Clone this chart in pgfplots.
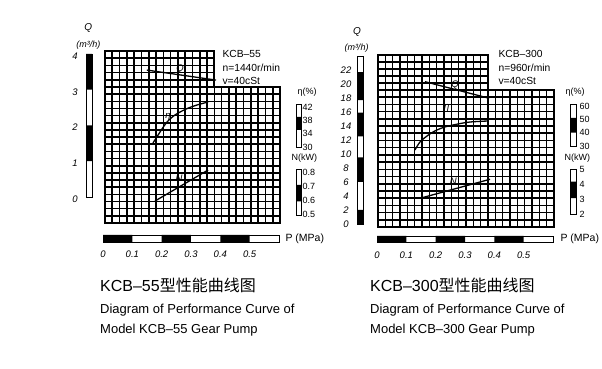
\documentclass[border=0pt]{standalone}
\usepackage{fontspec}
\setmainfont{Liberation Sans}
\newfontfamily\cjk{Noto Sans CJK SC}
\usepackage{pgfplots}
\pgfplotsset{compat=1.18}
\newcommand\ticklab{\fontsize{9.5}{11}\selectfont\itshape}
\newcommand\leglab{\fontsize{9}{10}\selectfont}
\newcommand\infofont{\fontsize{10.3}{12}\selectfont}
\newcommand\curvelab{\fontsize{9.5}{10}\selectfont\itshape}
\pgfplotsset{
  /pgf/number format/assume math mode=true,
  gridax/.style={scale only axis, anchor=south west, xmin=0, ymin=0,
    xtick distance=1, ytick distance=1, grid=major,
    major grid style={black, line width=1.6pt},
    xticklabels={}, yticklabels={}, major tick length=0pt,
    axis line style={line width=1.9pt}},
  dataax/.style={scale only axis, anchor=south west, axis lines=none, clip=false,
    xmin=0, xmax=0.6},
  barax/.style={scale only axis, anchor=south west, axis line style={line width=0.9pt},
    major tick length=0pt},
  curve/.style={black, line width=1.3pt, smooth, no marks},
}
\begin{document}
\begin{tikzpicture}[x=1pt,y=1pt]
\path[use as bounding box] (0,0) rectangle (602,369);

% ================= LEFT: KCB-55 =================
% grid
\begin{axis}[gridax, at={(105pt,146pt)}, width=175pt, height=136pt, xmax=24, ymax=19]
\end{axis}
\begin{axis}[gridax, at={(105pt,282pt)}, width=109.4pt, height=36pt, xmax=15, ymax=5]
\end{axis}
% curves (x = P in MPa, y = Q in m3/h)
\begin{axis}[dataax, at={(104pt,172pt)}, width=176pt, height=143pt, ymin=0, ymax=4]
\addplot[curve] coordinates {(0.146,3.55) (0.382,3.27)};
\addplot[curve] coordinates {(0.167,1.51) (0.191,1.818) (0.215,2.098) (0.242,2.294) (0.280,2.462) (0.317,2.573) (0.355,2.657)};
\addplot[curve] coordinates {(0.174,-0.112) (0.355,0.755)};
\node[font=\curvelab] at (axis cs:0.259,3.58) {Q};
\node[font=\curvelab] at (axis cs:0.218,2.24) {η};
\node[font=\curvelab] at (axis cs:0.256,0.53) {N};
\end{axis}
% Q scale bar
\begin{axis}[barax, at={(86pt,172pt)}, width=6pt, height=143pt, xmin=0, xmax=1, ymin=0, ymax=4,
  xtick=\empty, ytick={0,1,2,3,4},
  yticklabel style={anchor=center, xshift=-11pt, yshift=-2pt, font=\ticklab}]
\addplot[fill=black, draw=none] coordinates {(0,1) (1,1) (1,2) (0,2) (0,1)};
\addplot[fill=black, draw=none] coordinates {(0,3) (1,3) (1,4) (0,4) (0,3)};
\end{axis}
% P scale bar
\begin{axis}[barax, at={(103pt,127pt)}, width=176pt, height=7pt, xmin=0, xmax=0.6, ymin=0, ymax=1,
  ytick=\empty, xtick={0,0.1,0.2,0.3,0.4,0.5}, xticklabels={0,0.1,0.2,0.3,0.4,0.5},
  xticklabel style={anchor=center, yshift=-12pt, font=\ticklab}]
\addplot[fill=black, draw=none] coordinates {(0,0) (0.1,0) (0.1,1) (0,1) (0,0)};
\addplot[fill=black, draw=none] coordinates {(0.2,0) (0.3,0) (0.3,1) (0.2,1) (0.2,0)};
\addplot[fill=black, draw=none] coordinates {(0.4,0) (0.5,0) (0.5,1) (0.4,1) (0.4,0)};
\end{axis}
% eta legend
\begin{axis}[barax, at={(296pt,222pt)}, width=5.5pt, height=43pt, xmin=0, xmax=1, ymin=30, ymax=42.9,
  xtick=\empty, ytick={30,34,38,42}, yticklabel pos=right,
  yticklabel style={anchor=west, inner xsep=0.8pt, font=\leglab}]
\addplot[fill=black, draw=none] coordinates {(0,35.1) (1,35.1) (1,39) (0,39) (0,35.1)};
\end{axis}
% N legend
\begin{axis}[barax, at={(296pt,154pt)}, width=5.5pt, height=46pt, xmin=0, xmax=1, ymin=0.493, ymax=0.821,
  xtick=\empty, ytick={0.5,0.6,0.7,0.8}, yticklabels={0.5,0.6,0.7,0.8}, yticklabel pos=right,
  yticklabel style={anchor=west, inner xsep=0.8pt, font=\leglab}]
\addplot[fill=black, draw=none] coordinates {(0,0.59) (1,0.59) (1,0.707) (0,0.707) (0,0.59)};
\end{axis}
% texts
\node[font=\fontsize{10}{12}\selectfont\itshape] at (88.3,341) {Q};
\node[font=\fontsize{9}{11}\selectfont\itshape] at (88.3,324) {(m³/h)};
\node[anchor=west, font=\infofont] at (219,315) {KCB–55};
\node[anchor=west, font=\infofont] at (219,301.5) {n=1440r/min};
\node[anchor=west, font=\infofont] at (219,288) {v=40cSt};
\node[anchor=west, font=\leglab] at (294,277) {η(\%)};
\node[anchor=west, font=\leglab] at (288,211) {N(kW)};
\node[anchor=west, font=\fontsize{10.5}{12}\selectfont] at (282,130) {P (MPa)};
\node[anchor=west, inner sep=0pt, font=\fontsize{16}{18}\selectfont] at (100,84) {KCB–55{\cjk 型性能曲线图}};
\node[anchor=west, inner sep=0pt, font=\fontsize{13}{15}\selectfont] at (100,59) {Diagram of Performance Curve of};
\node[anchor=west, inner sep=0pt, font=\fontsize{13}{15}\selectfont] at (100,39) {Model KCB–55 Gear Pump};

% ================= RIGHT: KCB-300 =================
\begin{axis}[gridax, at={(378pt,142pt)}, width=176pt, height=137pt, xmax=24, ymax=19]
\end{axis}
\begin{axis}[gridax, at={(378pt,279pt)}, width=110pt, height=35pt, xmax=15, ymax=5]
\end{axis}
\begin{axis}[dataax, at={(378pt,145pt)}, width=176pt, height=168pt, ymin=0, ymax=24]
\addplot[curve] coordinates {(0.160,20.33) (0.379,17.96)};
\addplot[curve] coordinates {(0.126,10.57) (0.143,11.71) (0.167,12.57) (0.194,13.29) (0.228,13.86) (0.273,14.29) (0.314,14.57) (0.372,14.71)};
\addplot[curve] coordinates {(0.143,3.67) (0.382,6.39)};
\node[font=\curvelab] at (axis cs:0.2625,19.86) {Q};
\node[font=\curvelab] at (axis cs:0.234,16.53) {η};
\node[font=\curvelab] at (axis cs:0.257,6.14) {N};
\end{axis}
\begin{axis}[barax, at={(357pt,145pt)}, width=6pt, height=168pt, xmin=0, xmax=1, ymin=0, ymax=24,
  xtick=\empty, ytick={0,2,...,22},
  yticklabel style={anchor=center, xshift=-11pt, font=\ticklab}]
\addplot[fill=black, draw=none] coordinates {(0,0) (1,0) (1,2) (0,2) (0,0)};
\addplot[fill=black, draw=none] coordinates {(0,6) (1,6) (1,9.5) (0,9.5) (0,6)};
\addplot[fill=black, draw=none] coordinates {(0,12.5) (1,12.5) (1,15.9) (0,15.9) (0,12.5)};
\addplot[fill=black, draw=none] coordinates {(0,17.7) (1,17.7) (1,21.7) (0,21.7) (0,17.7)};
\end{axis}
\begin{axis}[barax, at={(377pt,127pt)}, width=176pt, height=6pt, xmin=0, xmax=0.6, ymin=0, ymax=1,
  ytick=\empty, xtick={0,0.1,0.2,0.3,0.4,0.5}, xticklabels={0,0.1,0.2,0.3,0.4,0.5},
  xticklabel style={anchor=center, yshift=-13pt, font=\ticklab}]
\addplot[fill=black, draw=none] coordinates {(0,0) (0.1,0) (0.1,1) (0,1) (0,0)};
\addplot[fill=black, draw=none] coordinates {(0.2,0) (0.3,0) (0.3,1) (0.2,1) (0.2,0)};
\addplot[fill=black, draw=none] coordinates {(0.4,0) (0.5,0) (0.5,1) (0.4,1) (0.4,0)};
\end{axis}
\begin{axis}[barax, at={(570pt,223pt)}, width=6.5pt, height=42pt, xmin=0, xmax=1, ymin=30, ymax=61.5,
  xtick=\empty, ytick={30,40,50,60}, yticklabel pos=right,
  yticklabel style={anchor=west, inner xsep=3pt, font=\leglab}]
\addplot[fill=black, draw=none] coordinates {(0,40) (1,40) (1,51) (0,51) (0,40)};
\end{axis}
\begin{axis}[barax, at={(570pt,155pt)}, width=6.5pt, height=45pt, xmin=0, xmax=1, ymin=2, ymax=5,
  xtick=\empty, ytick={2,3,4,5}, yticklabel pos=right,
  yticklabel style={anchor=west, inner xsep=3pt, font=\leglab}]
\addplot[fill=black, draw=none] coordinates {(0,3.05) (1,3.05) (1,4.15) (0,4.15) (0,3.05)};
\end{axis}
\node[font=\fontsize{10}{12}\selectfont\itshape] at (357,337) {Q};
\node[font=\fontsize{9}{11}\selectfont\itshape] at (356.5,321) {(m³/h)};
\node[anchor=west, font=\infofont] at (495,315) {KCB–300};
\node[anchor=west, font=\infofont] at (495,301.5) {n=960r/min};
\node[anchor=west, font=\infofont] at (495,288) {v=40cSt};
\node[anchor=west, font=\leglab] at (562,277) {η(\%)};
\node[anchor=west, font=\leglab] at (561,211) {N(kW)};
\node[anchor=west, font=\fontsize{10.5}{12}\selectfont] at (557,130) {P (MPa)};
\node[anchor=west, inner sep=0pt, font=\fontsize{16}{18}\selectfont] at (370,84) {KCB–300{\cjk 型性能曲线图}};
\node[anchor=west, inner sep=0pt, font=\fontsize{13}{15}\selectfont] at (370,59) {Diagram of Performance Curve of};
\node[anchor=west, inner sep=0pt, font=\fontsize{13}{15}\selectfont] at (370,39) {Model KCB–300 Gear Pump};
\end{tikzpicture}
\end{document}
